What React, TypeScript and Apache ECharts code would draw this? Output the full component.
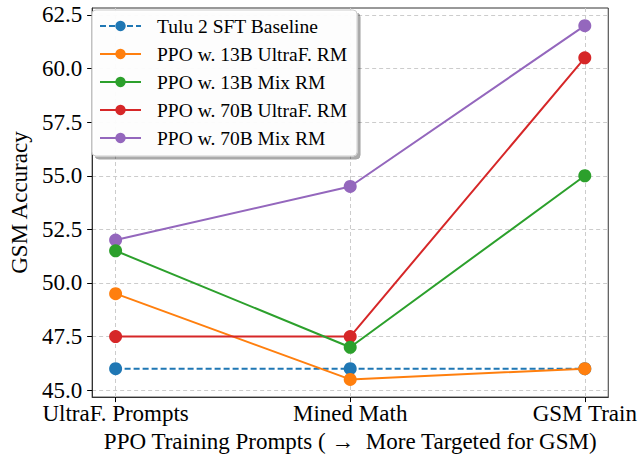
import React, { useEffect, useRef } from 'react';
import * as echarts from 'echarts';

const categories = ['UltraF. Prompts', 'Mined Math', 'GSM Train'];
const seriesNames = [
  'Tulu 2 SFT Baseline',
  'PPO w. 13B UltraF. RM',
  'PPO w. 13B Mix RM',
  'PPO w. 70B UltraF. RM',
  'PPO w. 70B Mix RM',
];
const baseline = [46, 46, 46];
const ultra13 = [49.5, 45.5, 46];
const mix13 = [51.5, 47, 55];
const ultra70 = [47.5, 47.5, 60.5];
const mix70 = [52, 54.5, 62];
const yTicks = [45, 47.5, 50, 52.5, 55, 57.5, 60, 62.5];
const xTicks = [0, 1, 2];
const colors = ['#1f77b4', '#ff7f0e', '#2ca02c', '#d62728', '#9467bd'];
const allValues = [baseline, ultra13, mix13, ultra70, mix70];

const FONT = 'Liberation Serif';

export default function App() {
  const ref = useRef<HTMLDivElement>(null);
  useEffect(() => {
    document.body.style.margin = '0';
    if (!ref.current) return;
    const chart = echarts.init(ref.current, undefined, { renderer: 'svg' });
    const series = allValues.map((vals, i) => ({
      name: seriesNames[i],
      type: 'line',
      data: vals.map((v, j) => [xTicks[j], v]),
      symbol: 'circle',
      symbolSize: 13,
      z: i === 2 ? 8 : 2 + i,
      itemStyle: { color: colors[i] },
      lineStyle: {
        color: colors[i],
        width: 2,
        type: i === 0 ? [6, 3] : 'solid',
      },
      emphasis: { disabled: true },
    }));
    chart.setOption({
      animation: false,
      textStyle: { fontFamily: FONT },
      grid: {
        left: 90,
        right: 31,
        top: 8,
        bottom: 56,
        show: true,
        borderColor: '#333',
        borderWidth: 1,
        backgroundColor: 'transparent',
      },
      legend: {
        orient: 'vertical',
        left: 92,
        top: 10,
        padding: [6, 10, 8, 7],
        itemGap: 8,
        itemWidth: 41,
        itemHeight: 13,
        backgroundColor: 'rgba(255,255,255,0.95)',
        borderColor: '#ccc',
        borderWidth: 1,
        borderRadius: 4,
        shadowColor: 'rgba(0,0,0,0.35)',
        shadowBlur: 0,
        shadowOffsetX: 3,
        shadowOffsetY: 3,
        textStyle: {
          fontFamily: FONT,
          fontSize: 19.5,
          color: '#000',
          padding: [0, 0, 0, 11],
        },
        data: seriesNames,
      },
      xAxis: {
        type: 'value',
        min: -0.1,
        max: 2.1,
        name: 'PPO Training Prompts ( \u2192  More Targeted for GSM)',
        nameLocation: 'middle',
        nameGap: 30,
        nameTextStyle: { fontFamily: FONT, fontSize: 23, color: '#000' },
        axisLine: { show: true, onZero: false, lineStyle: { color: '#333' } },
        axisTick: {
          show: true,
          customValues: xTicks,
          length: 5,
          lineStyle: { color: '#000' },
        },
        axisLabel: {
          customValues: xTicks,
          formatter: (v: number) => categories[Math.round(v)],
          fontFamily: FONT,
          fontSize: 23,
          color: '#000',
          margin: 5,
        },
        splitLine: {
          show: true,
          lineStyle: { color: '#ccc', type: [4, 3], width: 1 },
        },
      },
      yAxis: {
        type: 'value',
        min: 44.675,
        max: 62.825,
        name: 'GSM Accuracy',
        nameLocation: 'middle',
        nameGap: 58,
        nameTextStyle: { fontFamily: FONT, fontSize: 23, color: '#000' },
        axisLine: { show: true, onZero: false, lineStyle: { color: '#333' } },
        axisTick: {
          show: true,
          customValues: yTicks,
          length: 5,
          lineStyle: { color: '#000' },
        },
        axisLabel: {
          customValues: yTicks,
          formatter: (v: number) => v.toFixed(1),
          fontFamily: FONT,
          fontSize: 23,
          color: '#000',
          margin: 10,
        },
        splitLine: {
          show: true,
          lineStyle: { color: '#ccc', type: [4, 3], width: 1 },
        },
      },
      series,
    });
    return () => chart.dispose();
  }, []);
  return <div ref={ref} style={{ width: 640, height: 458 }} />;
}
